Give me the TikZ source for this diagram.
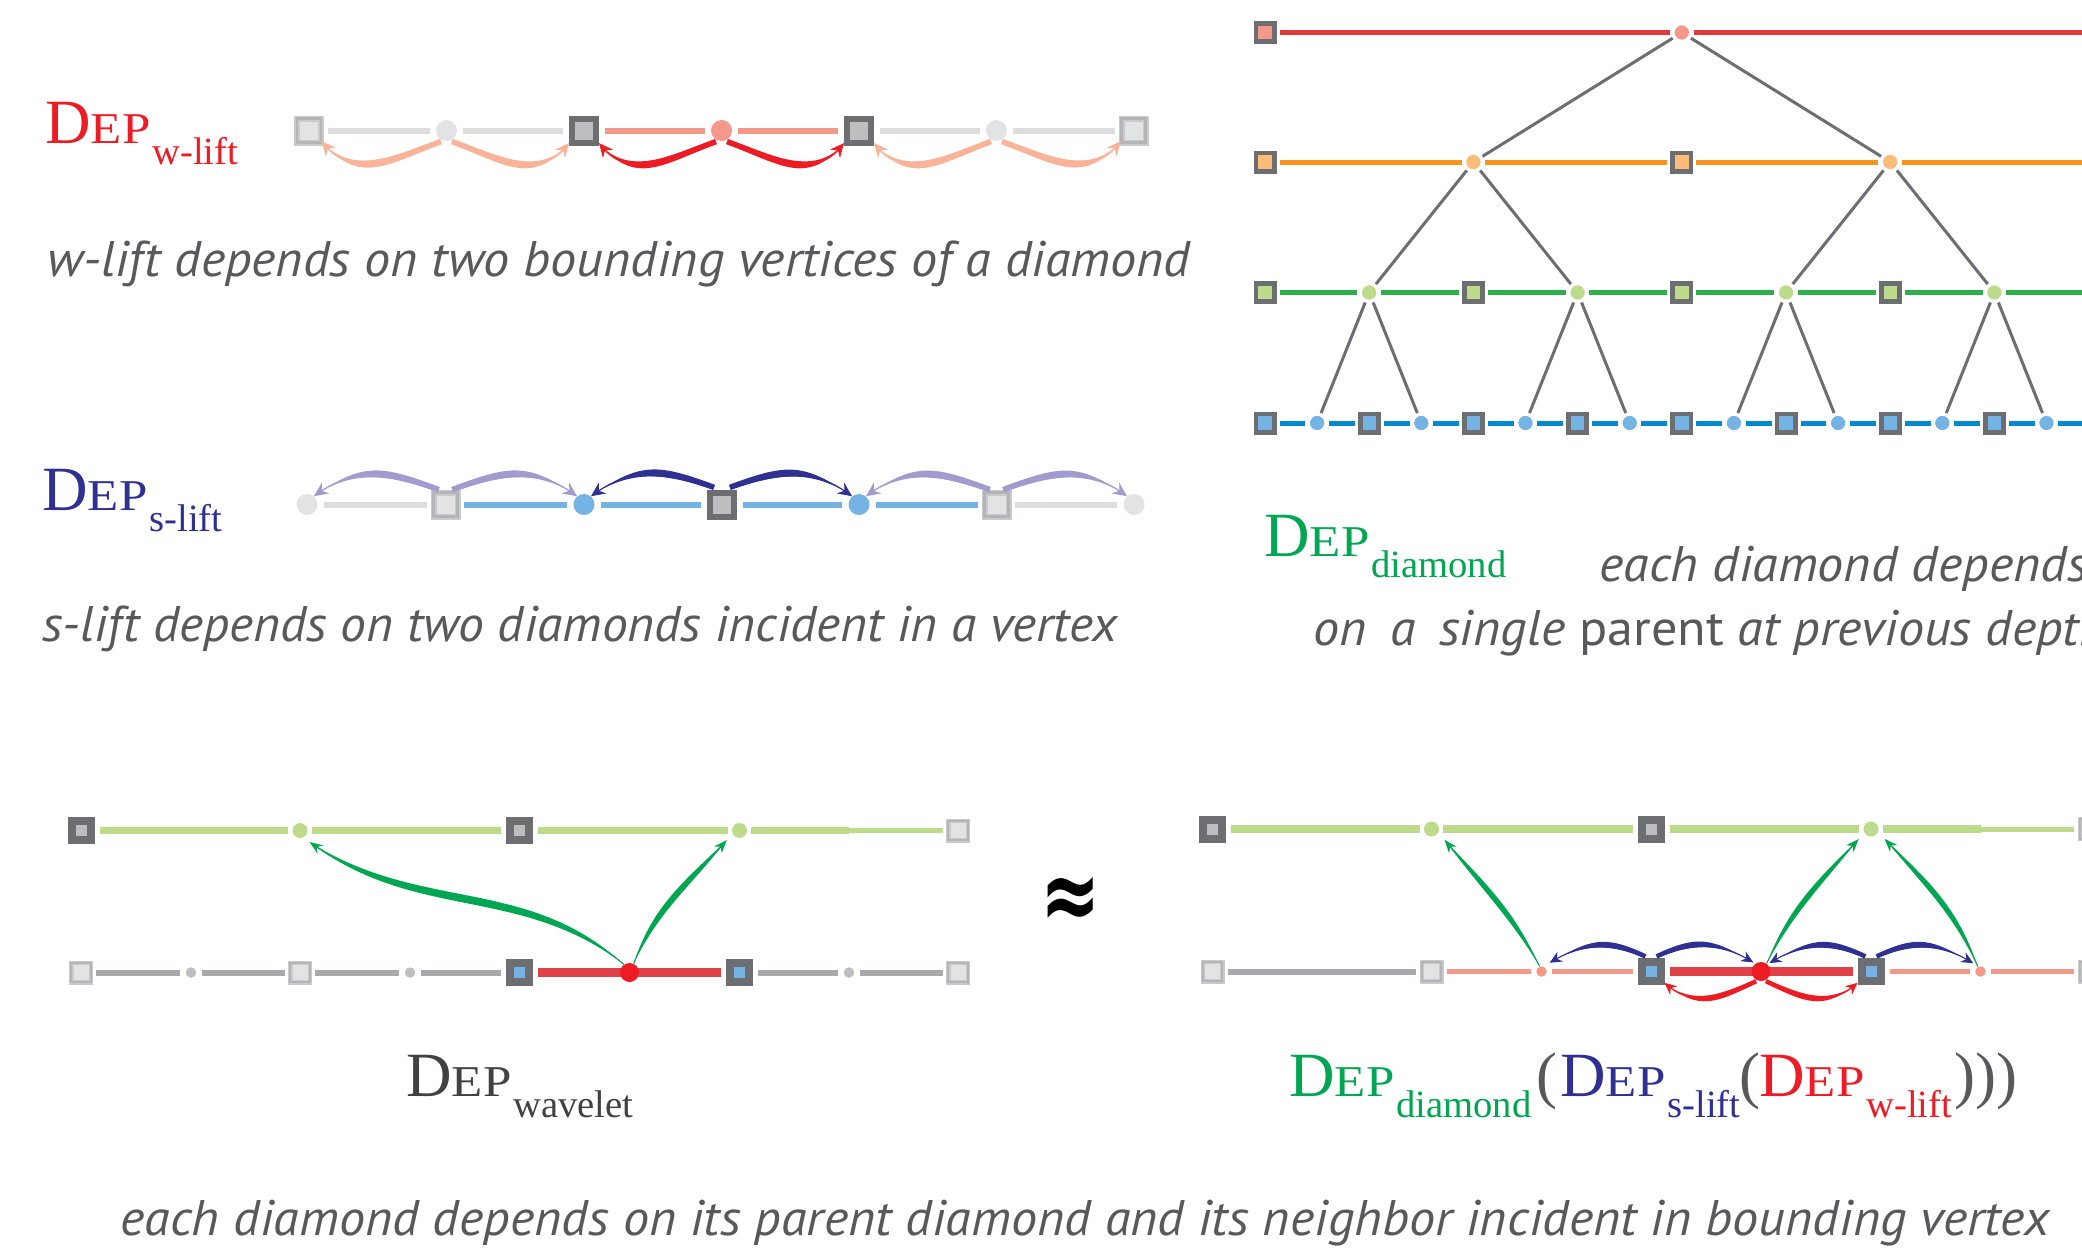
\documentclass[tikz,border=0pt]{standalone}
\usepackage{fontspec}
\usepackage{graphicx}
\usetikzlibrary{arrows.meta,calc,backgrounds}
\newfontfamily\capfam{PT Sans}
\newfontfamily\symfam{DejaVu Sans}
\newfontfamily\depfam{Liberation Serif}
\newcommand\capstyle{\capfam\itshape\fontsize{25pt}{29pt}\selectfont}
\newcommand\depl[1]{\depfam{\fontsize{31.5pt}{31.5pt}\selectfont D}\scalebox{1.16}[1]{\fontsize{22pt}{22pt}\selectfont EP}\hspace{1pt}\raisebox{-10.8pt}{\fontsize{19.3pt}{19.3pt}\selectfont #1}}
\newcommand\parfont{\depfam\fontsize{31.5pt}{31.5pt}\selectfont}
\newlength\capnatw
\newcommand\tarr[8]{%
  \pgfmathsetmacro\tarrang{#4+#8}%
  \fill[#1] (#2) to[out=#4,in=#5] (#3) to[out=#5,in=#4,looseness=1.25] ($(#2)+(\tarrang:#6)$) -- cycle;
  \draw[#1,line width=0.5pt,-{Stealth[#7]}] (#2) to[out=#4,in=#5] (#3);
}
\newcommand\larr[7]{%
  \pgfmathsetmacro\larrA{#4-#6}\pgfmathsetmacro\larrB{#5+#6}%
  \pgfmathsetmacro\larrC{#5-#6}\pgfmathsetmacro\larrD{#4+#6}%
  \fill[#1] (#2) to[out=\larrA,in=\larrB] (#3) to[out=\larrC,in=\larrD] (#2) -- cycle;
  \draw[#1,line width=0.5pt,-{Stealth[#7]}] (#2) to[out=#4,in=#5] (#3);
}
\definecolor{dgray}{HTML}{6D6E71}
\definecolor{lgray}{HTML}{BCBEC0}
\definecolor{fgray}{HTML}{C9CACC}
\definecolor{fring}{HTML}{B3B5B8}
\definecolor{vlgray}{HTML}{E2E3E4}
\definecolor{lngray}{HTML}{DCDDDF}
\definecolor{salmon}{HTML}{F4998A}
\definecolor{peach}{HTML}{F9B398}
\definecolor{adred}{HTML}{ED1C24}
\definecolor{lblue}{HTML}{74B3E3}
\definecolor{lpurple}{HTML}{A09CCF}
\definecolor{navy}{HTML}{2E3192}
\definecolor{adgreen}{HTML}{00A651}
\definecolor{lgreen}{HTML}{BCDC8C}
\definecolor{mgray}{HTML}{A7A9AC}
\definecolor{redline}{HTML}{DF4146}
\definecolor{treered}{HTML}{E03A3F}
\definecolor{treeorange}{HTML}{F7941D}
\definecolor{treegreen}{HTML}{2DB04B}
\definecolor{treeblue}{HTML}{0089CF}
\definecolor{lorange}{HTML}{FDBB78}
\definecolor{txtgray}{HTML}{58595B}
\definecolor{depgray}{HTML}{414042}
\begin{document}
\settowidth\capnatw{\capstyle w-lift depends on two bounding vertices of a diamond}%
\pgfmathsetmacro\capsx{571.5/\capnatw}%
\begin{tikzpicture}[x=0.5pt,y=0.5pt,
  dsq/.style={rectangle, draw=dgray, fill=lgray, line width=3pt, minimum size=12pt, inner sep=0pt},
  fsq/.style={rectangle, draw=fgray, double=fring, line width=0.8pt, double distance=1.4pt, fill=vlgray, minimum size=12pt, inner sep=0pt},
  wci/.style={circle, fill=vlgray, minimum size=10.5pt, inner sep=0pt},
  wln/.style={line width=3pt, shorten <=3pt, shorten >=3pt},
  tsq/.style={rectangle, draw=dgray, line width=2.4pt, minimum size=9.1pt, inner sep=0pt},
  tci/.style={circle, draw=white, line width=0.75pt, minimum size=8pt, inner sep=0pt},
  tln/.style={line width=2.5pt, shorten <=1.5pt, shorten >=1.5pt},
  tedge/.style={draw=dgray, line width=1.5pt, shorten <=1pt, shorten >=1pt},
  bsq/.style={rectangle, draw=dgray, fill=lgray, line width=4pt, minimum size=9.5pt, inner sep=0pt},
  bfsq/.style={rectangle, draw=fgray, double=fring, line width=0.6pt, double distance=1.05pt, fill=vlgray, minimum size=9.75pt, inner sep=0pt},
  gci/.style={circle, fill=lgreen, minimum size=7.5pt, inner sep=0pt},
  rci/.style={circle, fill=adred, minimum size=9.5pt, inner sep=0pt},
  sci/.style={circle, minimum size=5.25pt, inner sep=0pt},
  bln/.style={line width=3pt, shorten <=2.5pt, shorten >=2.5pt},
  dep/.style={anchor=base west, inner sep=0pt},
  captxt/.style={anchor=base west, inner sep=0pt, text=txtgray}]
\useasboundingbox (0,0) rectangle (2082,-1255);
\begin{pgfonlayer}{background}
\fill[white] (0,0) rectangle (2082,-1255);
\end{pgfonlayer}
\clip (0,0) rectangle (2082,-1255);

% ---------------- w-lift panel
\node[fsq] (ws0) at (309,-130.5) {};
\node[wci] (wc1) at (446.5,-130.5) {};
\node[dsq] (ws1) at (584,-130.5) {};
\node[wci, fill=salmon] (wc2) at (721.5,-130.5) {};
\node[dsq] (ws2) at (859,-130.5) {};
\node[wci] (wc3) at (996.5,-130.5) {};
\node[fsq] (ws3) at (1133.5,-130.5) {};

% ---------------- s-lift panel
\node[wci] (sc0) at (307,-504.5) {};
\node[fsq] (ss1) at (445.5,-504.5) {};
\node[wci, fill=lblue] (sc1) at (584,-504.5) {};
\node[dsq] (ss2) at (722,-504.5) {};
\node[wci, fill=lblue] (sc2) at (859,-504.5) {};
\node[fsq] (ss3) at (996.5,-504.5) {};
\node[wci] (sc3) at (1134,-504.5) {};

% ---------------- tree panel
\foreach \k in {0,2,...,14} \node[tsq, fill=lblue] (n3-\k) at ({1265+52.1*\k},-423) {};
\foreach \k in {1,3,...,15} \node[tci, fill=lblue] (n3-\k) at ({1265+52.1*\k},-423) {};
\foreach \k in {0,4,8,12} \node[tsq, fill=lgreen] (n2-\k) at ({1265+52.1*\k},-292.5) {};
\foreach \k in {2,6,10,14} \node[tci, fill=lgreen] (n2-\k) at ({1265+52.1*\k},-292.5) {};
\foreach \k in {0,8} \node[tsq, fill=lorange] (n1-\k) at ({1265+52.1*\k},-162) {};
\foreach \k in {4,12} \node[tci, fill=lorange] (n1-\k) at ({1265+52.1*\k},-162) {};
\node[tsq, fill=salmon] (n0-0) at (1265,-32.5) {};
\node[tci, fill=salmon] (n0-8) at ({1265+52.1*8},-32.5) {};
\coordinate (e0) at (2110,-32.5);
\coordinate (e1) at (2110,-162);
\coordinate (e2) at (2110,-292.5);
\coordinate (e3) at (2110,-423);

% ---------------- bottom-left panel
\node[bsq] (bt0) at (81,-830.5) {};
\node[gci] (bt1) at (300,-830.5) {};
\node[bsq] (bt2) at (519.5,-830.5) {};
\node[gci] (bt3) at (739.5,-830.5) {};
\coordinate (btm) at (849,-830.5);
\node[bfsq] (bt4) at (958,-830.5) {};
\node[bfsq] (bb0) at (81,-972.5) {};
\node[sci, fill=lgray] (bb1) at (191,-972.5) {};
\node[bfsq] (bb2) at (300,-972.5) {};
\node[sci, fill=lgray] (bb3) at (410,-972.5) {};
\node[bsq, fill=lblue] (bb4) at (519.5,-972.5) {};
\node[rci] (bb5) at (629.5,-972.5) {};
\node[bsq, fill=lblue] (bb6) at (739,-972.5) {};
\node[sci, fill=lgray] (bb7) at (849,-972.5) {};
\node[bfsq] (bb8) at (958,-972.5) {};

% ---------------- bottom-right panel
\node[bsq] (rt0) at (1212.5,-829) {};
\node[gci] (rt1) at (1431.5,-829) {};
\node[bsq] (rt2) at (1651,-829) {};
\node[gci] (rt3) at (1871,-829) {};
\coordinate (rtm) at (1980.5,-829);
\node[bfsq] (rt4) at (2089.5,-829) {};
\node[bfsq] (rb0) at (1212.5,-971.5) {};
\node[bfsq] (rb1) at (1431.5,-971.5) {};
\node[sci, fill=salmon] (rb2) at (1541.5,-971.5) {};
\node[bsq, fill=lblue] (rb3) at (1651,-971.5) {};
\node[rci] (rb4) at (1761,-971.5) {};
\node[bsq, fill=lblue] (rb5) at (1871,-971.5) {};
\node[sci, fill=salmon] (rb6) at (1980.5,-971.5) {};
\node[bfsq] (rb7) at (2089.5,-971.5) {};

% ---------------- lines (behind nodes)
\begin{pgfonlayer}{background}
\draw[wln, lngray] (ws0) -- (wc1);
\draw[wln, lngray] (wc1) -- (ws1);
\draw[wln, salmon] (ws1) -- (wc2);
\draw[wln, salmon] (wc2) -- (ws2);
\draw[wln, lngray] (ws2) -- (wc3);
\draw[wln, lngray] (wc3) -- (ws3);

\draw[wln, lngray] (sc0) -- (ss1);
\draw[wln, lblue] (ss1) -- (sc1);
\draw[wln, lblue] (sc1) -- (ss2);
\draw[wln, lblue] (ss2) -- (sc2);
\draw[wln, lblue] (sc2) -- (ss3);
\draw[wln, lngray] (ss3) -- (sc3);

\foreach \k [evaluate=\k as \kn using int(\k+1)] in {0,...,14} \draw[tln, treeblue] (n3-\k) -- (n3-\kn);
\draw[tln, treeblue] (n3-15) -- (e3);
\foreach \k [evaluate=\k as \kn using int(\k+2)] in {0,2,...,12} \draw[tln, treegreen] (n2-\k) -- (n2-\kn);
\draw[tln, treegreen] (n2-14) -- (e2);
\foreach \k [evaluate=\k as \kn using int(\k+4)] in {0,4,8} \draw[tln, treeorange] (n1-\k) -- (n1-\kn);
\draw[tln, treeorange] (n1-12) -- (e1);
\draw[tln, treered] (n0-0) -- (n0-8);
\draw[tln, treered] (n0-8) -- (e0);
\foreach \k [evaluate=\k as \ka using int(\k-1), evaluate=\k as \kb using int(\k+1)] in {2,6,10,14}
  {\draw[tedge] (n2-\k) -- (n3-\ka); \draw[tedge] (n2-\k) -- (n3-\kb);}
\foreach \k [evaluate=\k as \ka using int(\k-2), evaluate=\k as \kb using int(\k+2)] in {4,12}
  {\draw[tedge] (n1-\k) -- (n2-\ka); \draw[tedge] (n1-\k) -- (n2-\kb);}
\draw[tedge] (n0-8) -- (n1-4);
\draw[tedge] (n0-8) -- (n1-12);

\draw[lgreen, line width=3.65pt, shorten <=2.5pt, shorten >=2pt] (bt0) -- (bt1);
\draw[lgreen, line width=3.65pt, shorten <=2pt, shorten >=2.5pt] (bt1) -- (bt2);
\draw[lgreen, line width=3.65pt, shorten <=2.5pt, shorten >=2pt] (bt2) -- (bt3);
\draw[lgreen, line width=3.65pt, shorten <=2pt] (bt3) -- (btm);
\draw[lgreen, line width=2.5pt, shorten >=2.5pt] (btm) -- (bt4);
\draw[bln, mgray] (bb0) -- (bb1);
\draw[bln, mgray] (bb1) -- (bb2);
\draw[bln, mgray] (bb2) -- (bb3);
\draw[bln, mgray] (bb3) -- (bb4);
\draw[redline, line width=4.15pt, shorten <=2.5pt, shorten >=2.5pt] (bb4) -- (bb6);
\draw[bln, mgray] (bb6) -- (bb7);
\draw[bln, mgray] (bb7) -- (bb8);

\draw[lgreen, line width=3.65pt, shorten <=2.5pt, shorten >=2pt] (rt0) -- (rt1);
\draw[lgreen, line width=3.65pt, shorten <=2pt, shorten >=2.5pt] (rt1) -- (rt2);
\draw[lgreen, line width=3.65pt, shorten <=2.5pt, shorten >=2pt] (rt2) -- (rt3);
\draw[lgreen, line width=3.65pt, shorten <=2pt] (rt3) -- (rtm);
\draw[lgreen, line width=2.5pt, shorten >=2.5pt] (rtm) -- (rt4);
\draw[bln, mgray] (rb0) -- (rb1);
\draw[bln, salmon, line width=2.75pt] (rb1) -- (rb2);
\draw[bln, salmon, line width=2.75pt] (rb2) -- (rb3);
\draw[redline, line width=4.15pt, shorten <=2.5pt, shorten >=2.5pt] (rb3) -- (rb5);
\draw[bln, salmon, line width=2.75pt] (rb5) -- (rb6);
\draw[bln, salmon, line width=2.75pt] (rb6) -- (rb7);
\end{pgfonlayer}

% ---------------- arrows
\tarr{peach}{wc1.235}{ws0.-40}{200}{-50}{5}{length=7pt,width=6.5pt}{90}
\tarr{peach}{wc1.305}{ws1.-140}{-20}{-130}{5}{length=7pt,width=6.5pt}{-90}
\tarr{adred}{wc2.235}{ws1.-40}{200}{-50}{5}{length=7pt,width=6.5pt}{90}
\tarr{adred}{wc2.305}{ws2.-140}{-20}{-130}{5}{length=7pt,width=6.5pt}{-90}
\tarr{peach}{wc3.235}{ws2.-40}{200}{-50}{5}{length=7pt,width=6.5pt}{90}
\tarr{peach}{wc3.305}{ws3.-140}{-20}{-130}{5}{length=7pt,width=6.5pt}{-90}

\tarr{lpurple}{ss1.120}{sc0.50}{160}{35}{5}{length=7pt,width=6.5pt}{-90}
\tarr{lpurple}{ss1.60}{sc1.130}{20}{145}{5}{length=7pt,width=6.5pt}{90}
\tarr{navy}{ss2.120}{sc1.50}{160}{35}{5}{length=7pt,width=6.5pt}{-90}
\tarr{navy}{ss2.60}{sc2.130}{20}{145}{5}{length=7pt,width=6.5pt}{90}
\tarr{lpurple}{ss3.120}{sc2.50}{160}{35}{5}{length=7pt,width=6.5pt}{-90}
\tarr{lpurple}{ss3.60}{sc3.130}{20}{145}{5}{length=7pt,width=6.5pt}{90}

\larr{adgreen}{bb5.125}{$(bt1)+(-50:15)$}{140}{-35}{2.5}{length=6.5pt,width=5pt}
\larr{adgreen}{bb5.65}{$(bt3)+(-143:16)$}{68}{-132}{4}{length=6.5pt,width=5pt}

\larr{adgreen}{rb2.110}{$(rt1)+(-40:17)$}{118}{-50}{3.5}{length=6.5pt,width=5pt}
\larr{adgreen}{rb4.55}{$(rt3)+(-141:16)$}{65}{-132}{3.5}{length=6.5pt,width=5pt}
\larr{adgreen}{rb6.120}{$(rt3)+(-36:17)$}{112}{-47}{3.5}{length=6.5pt,width=5pt}
\tarr{navy}{rb3.115}{$(rb2)+(47:12)$}{155}{30}{4}{length=6pt,width=5.5pt}{-90}
\tarr{navy}{rb3.65}{$(rb4)+(130:12)$}{25}{150}{4}{length=6pt,width=5.5pt}{90}
\tarr{navy}{rb5.115}{$(rb4)+(45:12)$}{155}{30}{4}{length=6pt,width=5.5pt}{-90}
\tarr{navy}{rb5.65}{$(rb6)+(131:11)$}{25}{150}{4}{length=6pt,width=5.5pt}{90}
\tarr{adred}{rb4.235}{rb3.-40}{205}{-40}{4}{length=6pt,width=5.5pt}{90}
\tarr{adred}{rb4.305}{rb5.-140}{-25}{-140}{4}{length=6pt,width=5.5pt}{-90}

% ---------------- texts
\node[dep, text=adred] (dw) at (45,-143) {\depl{w-lift}};
\node[dep, text=navy] (ds) at (42,-510) {\depl{s-lift}};
\node[dep, text=adgreen] (dd) at (1264,-556) {\depl{diamond}};
\node[dep, text=depgray] (dwv) at (406,-1096) {\depl{wavelet}};
\node[captxt] (cap1) at (47,-276) {\resizebox{571.5pt}{\height}{\capstyle w-lift depends on two bounding vertices of a diamond}};
\node[captxt] (cap2) at (42,-641) {\resizebox{537.5pt}{\height}{\capstyle s-lift depends on two diamonds incident in a vertex}};
\node[captxt] (cap3) at (1599,-581) {\scalebox{\capsx}[1]{\capstyle each diamond depends}};
\node[captxt] (cap4) at (1313,-645) {\scalebox{\capsx}[1]{\capstyle on\hspace{0.45em}a\hspace{0.45em}single {\upshape parent} at previous depth}};
\node[captxt] (cap5) at (120,-1235) {\resizebox{964.5pt}{\height}{\capstyle each diamond depends on its parent diamond and its neighbor incident in bounding vertex}};

\node[inner sep=0pt, text=black] (apx) at (1071,-903) {\scalebox{1}[1.4]{\symfam\bfseries\fontsize{36pt}{36pt}\selectfont ≈}};

\node[dep, text=adgreen] (f1) at (1289,-1096) {\depl{diamond}};
\node[dep, text=txtgray] (f2) at (1536,-1096) {\parfont (};
\node[dep, text=navy] (f3) at (1560,-1096) {\depl{s-lift}};
\node[dep, text=txtgray] (f4) at (1739,-1096) {\parfont (};
\node[dep, text=adred] (f5) at (1759,-1096) {\depl{w-lift}};
\node[dep, text=txtgray] (f6) at (1954,-1096) {\parfont )))};
\end{tikzpicture}
\end{document}
